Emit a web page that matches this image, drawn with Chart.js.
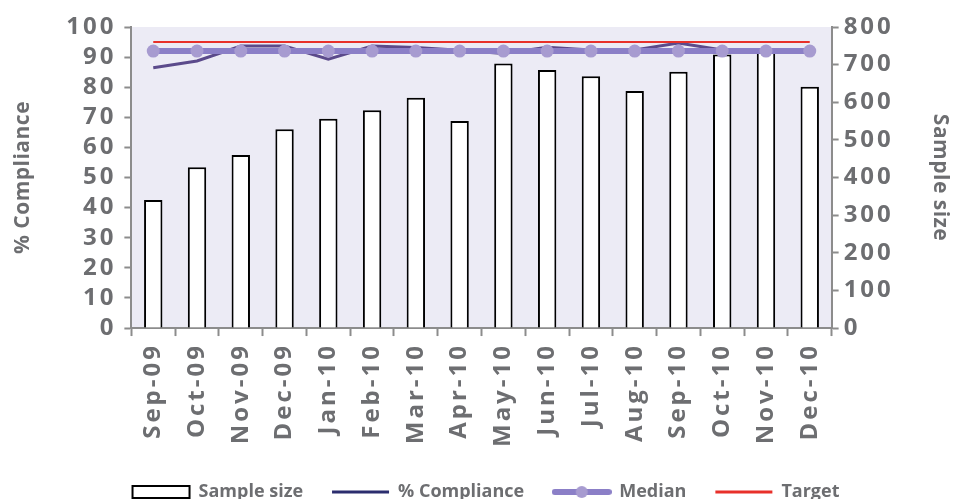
<!DOCTYPE html>
<html lang="en">
<head>
  <meta charset="UTF-8">
  <title>Compliance chart</title>
  <script src="https://cdn.jsdelivr.net/npm/chart.js"></script>
  <style>
    html, body { margin: 0; padding: 0; background: #fff; }
    #wrap { width: 954px; height: 499px; }
  </style>
</head>
<body>
  <div id="wrap"><canvas id="chart" width="954" height="499"></canvas></div>
  <script>
    const months = ["Sep-09", "Oct-09", "Nov-09", "Dec-09", "Jan-10", "Feb-10", "Mar-10", "Apr-10",
                    "May-10", "Jun-10", "Jul-10", "Aug-10", "Sep-10", "Oct-10", "Nov-10", "Dec-10"];
    const sampleSize = [340, 427, 460, 528, 556, 579, 612, 550, 703, 686, 669, 630, 681, 727, 735, 641];
    const compliance = [86.5, 88.7, 93.7, 93.7, 89.3, 93.7, 93.2, 92.3, 91.2, 93.3, 92.4, 92.4, 94.7, 92.4, 92.4, 92.2];
    const median = Array(months.length).fill(92);
    const target = Array(months.length).fill(95);

    const grey = '#6d6e71';
    const axisGrey = '#8c8c8c';
    const font = "'Open Sans', 'Noto Sans', sans-serif";

    // legend icon for the median (line with a dot)
    const medianIcon = document.createElement('canvas');
    medianIcon.width = 60; medianIcon.height = 14;
    (function () {
      const c = medianIcon.getContext('2d');
      c.strokeStyle = '#8b7fc7'; c.lineWidth = 6; c.lineCap = 'round';
      c.beginPath(); c.moveTo(3, 7); c.lineTo(57, 7); c.stroke();
      c.fillStyle = '#a79bd0';
      c.beginPath(); c.arc(30, 7, 6, 0, Math.PI * 2); c.fill();
    })();

    function wrapSpacing(chart, obj, fn, value, before, after) {
      const orig = obj[fn].bind(obj);
      obj[fn] = function () {
        chart.ctx.letterSpacing = value;
        if (before) before();
        const r = orig.apply(null, arguments);
        if (after) after();
        chart.ctx.letterSpacing = '3px';
        return r;
      };
    }

    // tick text in the original is letter-spaced; legend and titles are not
    const spacing = {
      id: 'spacing',
      beforeUpdate(chart) {
        chart.ctx.letterSpacing = '3px';
        const lg = chart.legend;
        if (lg && !lg._patched) {
          lg._patched = true;
          wrapSpacing(chart, lg, 'fit', '0px', null, () => { lg.height = 45; });
          wrapSpacing(chart, lg, 'draw', '0px',
            () => { lg.left += 9; lg.right += 9; },
            () => { lg.left -= 9; lg.right -= 9; });
        }
      },
      beforeDraw(chart) {
        chart.ctx.letterSpacing = '3px';
        Object.values(chart.scales).forEach(s => {
          if (!s._patched) { s._patched = true; wrapSpacing(chart, s, 'drawTitle', '0.5px'); }
        });
        const a = chart.chartArea, ctx = chart.ctx;
        ctx.save();
        ctx.fillStyle = '#ecebf5';
        ctx.fillRect(a.left, a.top, a.right - a.left, a.bottom - a.top);
        ctx.restore();
      }
    };

    new Chart(document.getElementById('chart'), {
      data: {
        labels: months,
        datasets: [
          {
            type: 'line', label: 'Target', data: target, yAxisID: 'y',
            borderColor: '#e8302a', borderWidth: 2, pointRadius: 0, order: 1
          },
          {
            type: 'line', label: 'Median', data: median, yAxisID: 'y',
            borderColor: '#8b7fc7', borderWidth: 6, pointRadius: 6.5,
            pointBackgroundColor: '#a79bd0', pointBorderWidth: 0, order: 2
          },
          {
            type: 'line', label: '% Compliance', data: compliance, yAxisID: 'y',
            borderColor: '#5b4a8b', borderWidth: 3, pointRadius: 0, order: 3
          },
          {
            type: 'bar', label: 'Sample size', data: sampleSize, yAxisID: 'y1',
            backgroundColor: '#ffffff', borderColor: '#000000', borderWidth: 2,
            barPercentage: 0.42, categoryPercentage: 1, order: 4
          }
        ]
      },
      options: {
        responsive: false,
        animation: false,
        layout: { padding: { left: 0, right: 0, top: 27, bottom: 0 } },
        plugins: {
          tooltip: { enabled: false },
          legend: {
            position: 'bottom',
            labels: {
              color: grey,
              font: { family: font, size: 18, weight: 'bold' },
              usePointStyle: true,
              pointStyleWidth: 57,
              boxHeight: 12,
              padding: 29,
              generateLabels(chart) {
                const names = ['Sample size', '% Compliance', 'Median', 'Target'];
                return names.map(name => {
                  const i = chart.data.datasets.findIndex(d => d.label === name);
                  const d = chart.data.datasets[i];
                  let style = 'line', fill = d.borderColor, stroke = d.borderColor, line = 3;
                  if (name === 'Sample size') { style = 'rect'; fill = '#ffffff'; line = 2; }
                  if (name === '% Compliance') { fill = stroke = '#2b2d6e'; }
                  if (name === 'Median') style = medianIcon;
                  return {
                    text: name, datasetIndex: i, pointStyle: style,
                    fillStyle: fill, strokeStyle: stroke,
                    lineWidth: line, fontColor: grey, hidden: false
                  };
                });
              }
            }
          }
        },
        scales: {
          x: {
            ticks: {
              color: grey, minRotation: 90, maxRotation: 90, autoSkip: false,
              font: { family: font, size: 24, weight: 'bold' }, padding: 7
            },
            grid: { drawOnChartArea: false, tickLength: 8, tickColor: axisGrey, tickWidth: 2 },
            border: { color: axisGrey, width: 2 }
          },
          y: {
            position: 'left', min: 0, max: 100,
            ticks: {
              stepSize: 10, autoSkip: false, color: grey,
              font: { family: font, size: 24, weight: 'bold' }, padding: 8
            },
            grid: { drawOnChartArea: false, tickLength: 7, tickColor: axisGrey, tickWidth: 2 },
            border: { color: axisGrey, width: 2 },
            title: {
              display: true, text: '% Compliance', color: grey,
              font: { family: font, size: 21, weight: 'bold' }, padding: { top: 10, bottom: 23 }
            }
          },
          y1: {
            position: 'right', min: 0, max: 800,
            ticks: {
              stepSize: 100, autoSkip: false, color: grey,
              font: { family: font, size: 24, weight: 'bold' }, padding: 5
            },
            grid: { drawOnChartArea: false, tickLength: 7, tickColor: axisGrey, tickWidth: 2 },
            border: { color: axisGrey, width: 2 },
            title: {
              display: true, text: 'Sample size', color: grey,
              font: { family: font, size: 21, weight: 'bold' }, padding: { top: 1, bottom: 29 }
            }
          }
        }
      },
      plugins: [spacing]
    });
  </script>
</body>
</html>
